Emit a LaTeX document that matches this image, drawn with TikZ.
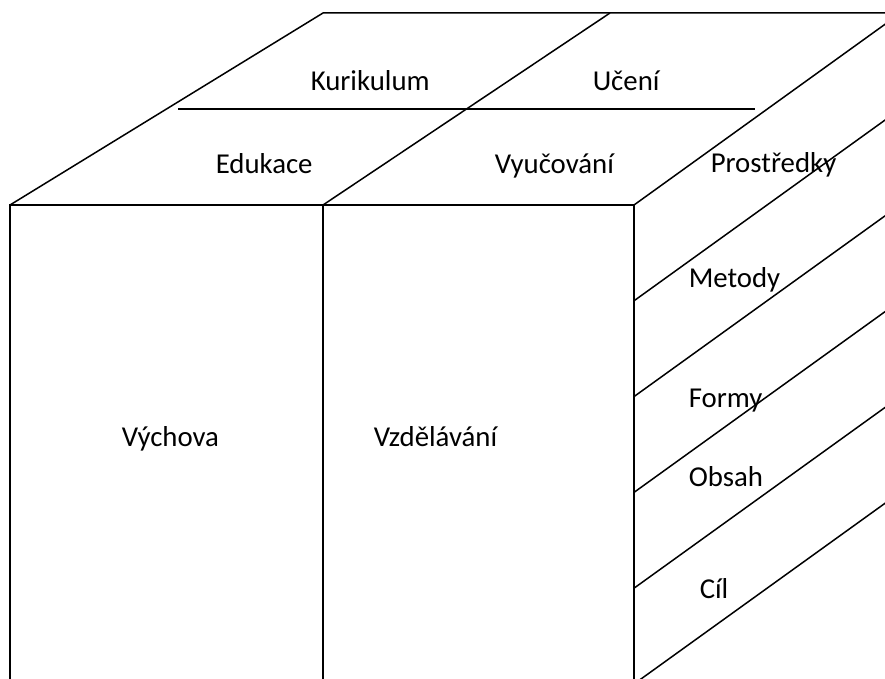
\documentclass[tikz,border=0pt]{standalone}
\usepackage{fontspec}
\setmainfont{Carlito}

\begin{document}
\begin{tikzpicture}[x=1pt,y=-1pt,line width=1.5pt,
    lbl/.style={anchor=base west,inner sep=0pt,font=\fontsize{28.8}{34}\selectfont}]
  \useasboundingbox (0,0) rectangle (885,679);
  \clip (0,0) rectangle (885,679);

  % front face
  \draw (10,700) -- (10,205) -- (634,205) -- (634,700);
  \draw (323,205) -- (323,700);

  % top face
  \draw (10,205) -- (323,13) -- (900,13);
  \draw (323,205) -- (610,13);
  \draw (178,109) -- (755,109);

  % side face, one strip per layer
  \foreach \i in {0,...,5}
    \draw (634,205+95.8*\i) -- ++(400,-288);

  \node[lbl] (Kur) at (310,91) {Kurikulum};
  \node[lbl] (Uce) at (592,91) {Učení};
  \node[lbl] (Edu) at (215,173) {Edukace};
  \node[lbl] (Vyu) at (494,173) {Vyučování};
  \node[lbl] (Pro) at (710,172) {Prostředky};
  \node[lbl] (Met) at (688,287) {Metody};
  \node[lbl] (For) at (688,407) {Formy};
  \node[lbl] (Obs) at (688,486) {Obsah};
  \node[lbl] (Cil) at (699,598) {Cíl};
  \node[lbl] (Vych) at (121,446) {Výchova};
  \node[lbl] (Vzd) at (373,446) {Vzdělávání};
\end{tikzpicture}
\end{document}
